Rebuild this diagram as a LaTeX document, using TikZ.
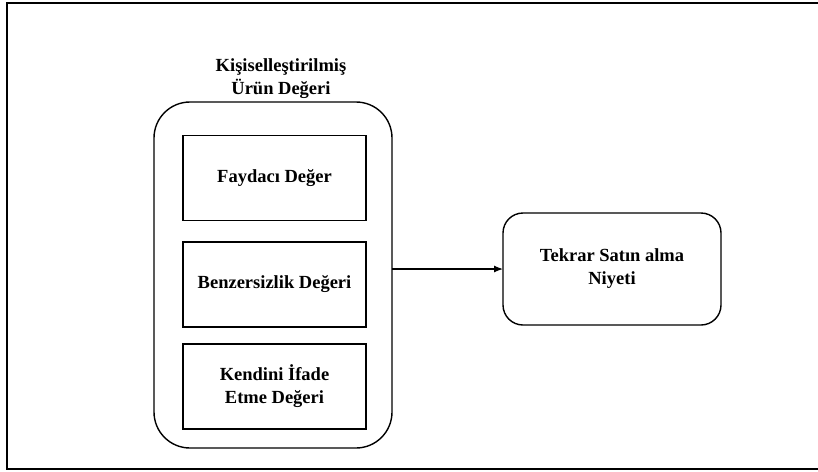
\documentclass[tikz,border=0pt]{standalone}
\usepackage{fontspec}
\setmainfont{Liberation Serif}
\usepackage{xcolor}
\usepackage{tikz}
\usetikzlibrary{shapes}
\usetikzlibrary{arrows}
\usetikzlibrary{positioning, fit, arrows.meta}

\begin{document}
\begin{tikzpicture}[x=1pt, y=-1pt,
		every node/.style={font=\fontsize{18.5}{23}\selectfont\bfseries, align=center},
		valbox/.style={draw, rectangle, line width=1.4pt, inner sep=0pt, outer sep=0pt,
			minimum width=183pt, minimum height=85pt},
		roundbox/.style 2 args={draw, rectangle, rounded corners=#1, line width=1.4pt,
			inner sep=0pt, outer sep=0pt, minimum width=#2}
		]
		\useasboundingbox (0,0) rectangle (818,471);
		% frame
		\draw[line width=2pt] (818,3) -- (7,3) -- (7,469) -- (818,469);
		\node (title) at (281, 79) {Kişiselleştirilmiş\\Ürün Değeri};
		\node [roundbox={36pt}{238pt}, minimum height=346pt] (urun) at (273, 275) {};
		\node [valbox] (fayda) at (274.5, 178) {Faydacı Değer};
		\node [valbox] (benzer) at (274.5, 284.5) {Benzersizlik Değeri};
		\node [valbox] (ifade) at (274.5, 386.5) {Kendini İfade\\Etme Değeri};
		\node [roundbox={20pt}{218pt}, minimum height=112pt] (niyet) at (612, 269) {Tekrar Satın alma\\Niyeti};
		\draw[-{Latex[length=9pt, width=7pt]}, line width=1.2pt] (niyet.west -| urun.east) to node[left]{} (niyet.west);
		\end{tikzpicture}
\end{document}
